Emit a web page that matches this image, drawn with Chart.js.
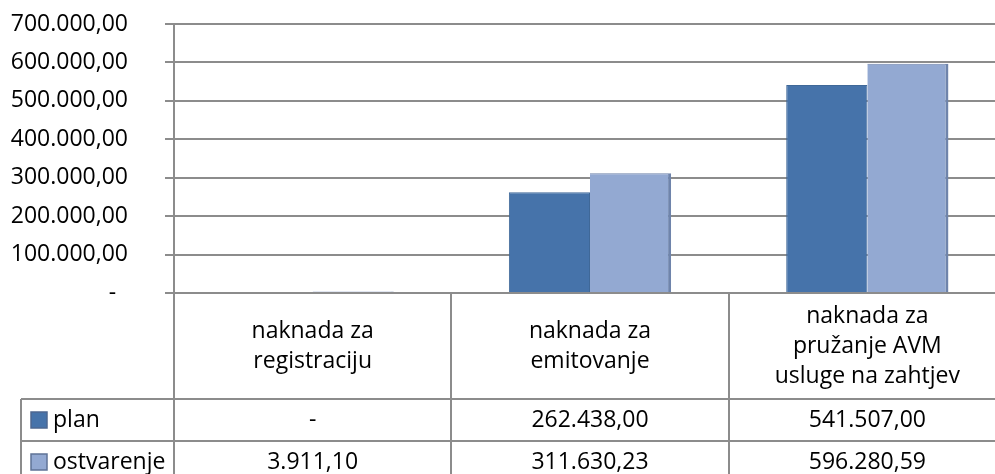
<!DOCTYPE html>
<html>
<head>
<meta charset="utf-8">
<script src="https://cdn.jsdelivr.net/npm/chart.js@4"></script>
<style>
    html, body { margin: 0; padding: 0; overflow: hidden; background: #fff; }
</style>
</head>
<body>
<canvas id="feeChart" width="1010" height="474"></canvas>
<script>
// chart data
const categories = [
    ['naknada za', 'registraciju'],
    ['naknada za', 'emitovanje'],
    ['naknada za', 'pružanje AVM', 'usluge na zahtjev']
];
const seriesNames = ['plan', 'ostvarenje'];
const planValues = [0, 262438.00, 541507.00];
const ostvarenjeValues = [3911.10, 311630.23, 596280.59];
const yTicks = [0, 100000, 200000, 300000, 400000, 500000, 600000, 700000];

const planColor = '#4673aa';
const ostvarenjeColor = '#93a9d2';
const lineColor = '#8c8c8c';
const fontFamily = "'Open Sans', 'Noto Sans', sans-serif";

// 262438 -> "262.438,00", 0 -> "-"
function formatNumber(value) {
    if (!value) {
        return '-';
    }
    const parts = value.toFixed(2).split('.');
    const whole = parts[0].replace(/\B(?=(\d{3})+(?!\d))/g, '.');
    return whole + ',' + parts[1];
}

// draws the excel style data table under the plot
const dataTablePlugin = {
    id: 'dataTable',
    afterDraw(chart) {
        const ctx = chart.ctx;
        const x = chart.scales.x;
        const area = chart.chartArea;
        const step = x.width / categories.length;

        const top = area.bottom;
        const headerBottom = top + 106;
        const rowHeight = 42;
        const tableBottom = headerBottom + rowHeight * 2;
        const labelLeft = 21;

        ctx.save();
        ctx.strokeStyle = lineColor;
        ctx.lineWidth = 2;

        // vertical lines
        ctx.beginPath();
        for (let i = 0; i <= categories.length; i++) {
            const px = Math.round(x.left + step * i);
            ctx.moveTo(px, top);
            ctx.lineTo(px, tableBottom);
        }
        ctx.moveTo(labelLeft, headerBottom);
        ctx.lineTo(labelLeft, tableBottom);

        // horizontal lines
        for (let r = 0; r <= 2; r++) {
            const py = headerBottom + rowHeight * r;
            ctx.moveTo(labelLeft, py);
            ctx.lineTo(x.right, py);
        }
        ctx.stroke();

        ctx.fillStyle = '#000';
        ctx.font = '23px ' + fontFamily;
        ctx.textAlign = 'center';
        ctx.textBaseline = 'middle';

        // header with category names
        const headerMid = (top + headerBottom) / 2;
        const lineHeight = 30;
        categories.forEach((lines, i) => {
            const cx = x.getPixelForValue(i);
            const startY = headerMid - (lines.length - 1) * lineHeight / 2;
            lines.forEach((line, j) => {
                ctx.fillText(line, cx, startY + j * lineHeight);
            });
        });

        // value rows
        const rows = [planValues, ostvarenjeValues];
        const colors = [planColor, ostvarenjeColor];
        const borders = ['#4d6790', '#5f7397'];
        rows.forEach((values, r) => {
            const cy = headerBottom + rowHeight * r + rowHeight / 2;
            values.forEach((v, i) => {
                ctx.textAlign = 'center';
                ctx.fillText(formatNumber(v), x.getPixelForValue(i), cy);
            });

            // legend key + series name
            ctx.fillStyle = colors[r];
            ctx.fillRect(labelLeft + 10, cy - 8, 16, 16);
            ctx.strokeStyle = borders[r];
            ctx.lineWidth = 1.5;
            ctx.strokeRect(labelLeft + 10, cy - 8, 16, 16);
            ctx.fillStyle = '#000';
            ctx.textAlign = 'left';
            ctx.fillText(seriesNames[r], labelLeft + 32, cy);
        });

        ctx.restore();
    }
};

function initialize() {
    const ctx = document.getElementById('feeChart').getContext('2d');
    new Chart(ctx, {
        type: 'bar',
        data: {
            labels: categories,
            datasets: [{
                label: seriesNames[0],
                data: planValues,
                backgroundColor: planColor,
                borderColor: '#3f6898',
                borderWidth: { left: 1, right: 1, top: 1, bottom: 0 }
            }, {
                label: seriesNames[1],
                data: ostvarenjeValues,
                backgroundColor: ostvarenjeColor,
                borderColor: '#6f84ab',
                borderWidth: { left: 0, right: 3, top: 1, bottom: 0 }
            }]
        },
        options: {
            responsive: false,
            animation: false,
            categoryPercentage: 0.585,
            barPercentage: 1,
            layout: {
                padding: { top: 24, right: 4, bottom: 181, left: 0 }
            },
            plugins: {
                legend: { display: false },
                tooltip: { enabled: false }
            },
            scales: {
                x: {
                    display: false
                },
                y: {
                    min: 0,
                    max: 700000,
                    afterFit(scale) {
                        // fixed axis width, and no extra room for the big label padding
                        scale.width = 174;
                        scale.paddingTop = 0;
                        scale.paddingBottom = 0;
                    },
                    afterBuildTicks(scale) {
                        scale.ticks = yTicks.map(v => ({ value: v }));
                    },
                    ticks: {
                        padding: 37,
                        color: '#000',
                        font: { family: fontFamily, size: 23 },
                        callback: value => value === 0 ? '-  ' : formatNumber(value)
                    },
                    grid: {
                        color: lineColor,
                        lineWidth: 2,
                        tickLength: 9
                    },
                    border: {
                        color: lineColor,
                        width: 2
                    }
                }
            }
        },
        plugins: [dataTablePlugin]
    });
}

window.addEventListener('load', initialize);
</script>
</body>
</html>
